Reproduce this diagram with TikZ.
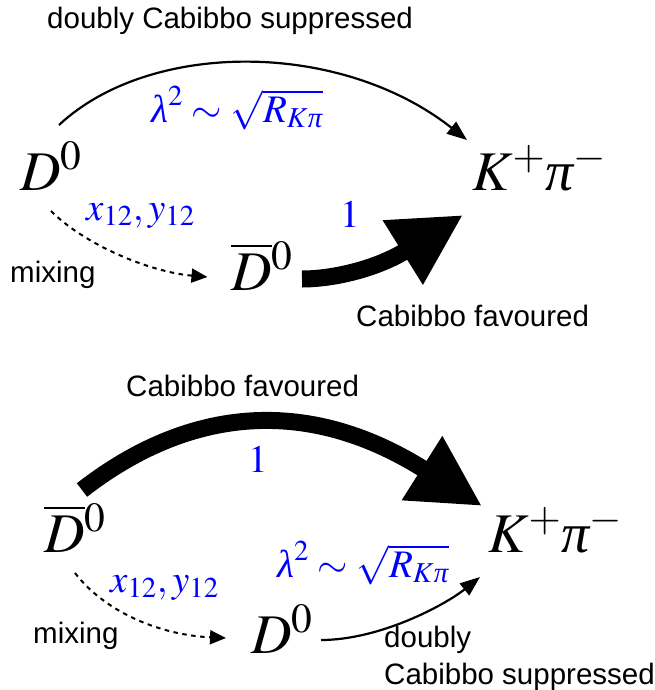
\documentclass[tikz,border=0pt]{standalone}
\usepackage{mathptmx}
\usepackage{amstext}
\usepackage[no-math]{fontspec}
\setsansfont{Liberation Sans}
\newfontfamily\grkfont{Liberation Serif}
\newcommand{\ipi}{\text{\grkfont\itshape π}}
\newcommand{\ilam}{\text{\grkfont\itshape λ}}
\usetikzlibrary{arrows.meta}
\tikzset{
  lbl/.style={font=\fontsize{29.5}{34}\sffamily, inner sep=0pt, anchor=base west},
  part/.style={font=\fontsize{56}{60}\selectfont, inner sep=0pt, anchor=base west},
  coup/.style={font=\fontsize{39}{42}\selectfont, text=blue, inner sep=0pt, anchor=base west},
  thinarr/.style={line width=2.2pt, -{Triangle[length=20pt,width=15pt]}},
  mixarr/.style={line width=2pt, dash pattern=on 4.5pt off 4.5pt, -{Triangle[length=16pt,width=14pt]}},
  thickarr/.style={line width=17pt, -{Triangle[length=71pt,width=71pt]}}
}
\begin{document}
\begin{tikzpicture}[x=1pt,y=-1pt]
\useasboundingbox (0,0) rectangle (654,690);
% ---------- top diagram ----------
\node[lbl]  (dcsA) at (47,29)  {doubly Cabibbo suppressed};
\node[part] (D0a)  at (20,190) {$D^0$};
\node[part] (Kpia) at (472,190) {$K^+\ipi^-$};
\node[coup] (lamA) at (151,122) {$\ilam^2\sim\sqrt{R_{K\ipi}}$};
\node[coup] (xyA)  at (86,220) {$x_{12},y_{12}$};
\node[coup] (oneA) at (340,227) {$1$};
\node[lbl]  (mixA) at (10,282) {mixing};
\node[part] (Dba)  at (231,290) {$\overline{D}{}^0$};
\node[lbl]  (cfA)  at (356,326) {Cabibbo favoured};
\coordinate (a1s) at (59,125);
\coordinate (a1e) at (467,140);
\coordinate (a2s) at (51,211);
\coordinate (a2e) at (207.5,277);
\coordinate (a3s) at (302,279);
\coordinate (a3e) at (463,215);
\draw[thinarr] (a1s) .. controls (150,40) and (340,40) .. (a1e);
\draw[mixarr] (a2s) .. controls (85,245) and (150,272) .. (a2e);
\draw[thickarr] (a3s) .. controls (335,279) and (378,268) .. (a3e);
% ---------- bottom diagram ----------
\node[lbl]  (cfB)  at (126,396) {Cabibbo favoured};
\node[part] (Dbb)  at (44,552) {$\overline{D}{}^0$};
\node[part] (Kpib) at (488,552) {$K^+\ipi^-$};
\node[coup] (oneB) at (248,472) {$1$};
\node[coup] (lamB) at (277,577) {$\ilam^2\sim\sqrt{R_{K\ipi}}$};
\node[coup] (xyB)  at (110,592) {$x_{12},y_{12}$};
\node[lbl]  (mixB) at (33,643) {mixing};
\node[part] (D0b)  at (251,653) {$D^0$};
\node[lbl]  (dblB) at (384,647) {doubly};
\node[lbl]  (cspB) at (384,684) {Cabibbo suppressed};
\coordinate (b1s) at (82,490);
\coordinate (b1e) at (482,506);
\coordinate (b2s) at (75,573);
\coordinate (b2e) at (226,638);
\coordinate (b3s) at (321,640);
\coordinate (b3e) at (480,577);
\draw[thickarr] (b1s) .. controls (177,416) and (296,388.5) .. (b1e);
\draw[mixarr] (b2s) .. controls (105,612) and (160,635) .. (b2e);
\draw[thinarr] (b3s) .. controls (380,640) and (445,605) .. (b3e);
\end{tikzpicture}
\end{document}
